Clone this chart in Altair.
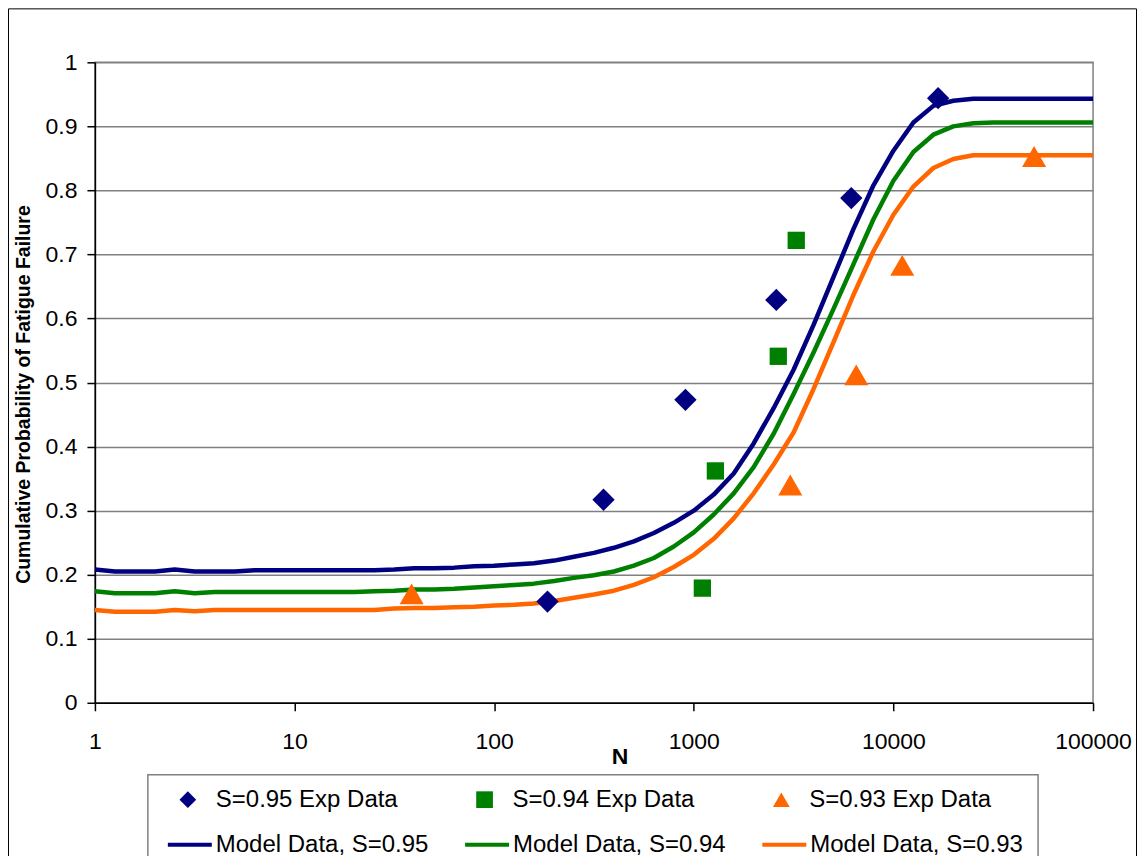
import altair as alt
import pandas as pd

# ---------------- data ----------------
N_MODEL = [1, 1.26, 1.58, 2, 2.51, 3.16, 3.98, 5.01, 6.31, 7.94,
           10, 12.6, 15.8, 20, 25.1, 31.6, 39.8, 50.1, 63.1, 79.4,
           100, 126, 158, 200, 251, 316, 398, 501, 631, 794,
           1000, 1259, 1585, 1995, 2512, 3162, 3981, 5012, 6310, 7943,
           10000, 12589, 15849, 19953, 25119, 31623, 39811, 50119, 63096, 79433,
           100000]

MODEL_095 = [0.208, 0.205, 0.205, 0.205, 0.208, 0.205, 0.205, 0.205, 0.207, 0.207,
             0.207, 0.207, 0.207, 0.207, 0.207, 0.208, 0.210, 0.210, 0.211, 0.213,
             0.214, 0.216, 0.218, 0.222, 0.228, 0.234, 0.242, 0.252, 0.265, 0.281,
             0.300, 0.325, 0.358, 0.405, 0.460, 0.520, 0.590, 0.665, 0.740, 0.808,
             0.862, 0.906, 0.932, 0.940, 0.943, 0.943, 0.943, 0.943, 0.943, 0.943,
             0.943]

MODEL_094 = [0.174, 0.171, 0.171, 0.171, 0.174, 0.171, 0.173, 0.173, 0.173, 0.173,
             0.173, 0.173, 0.173, 0.173, 0.174, 0.175, 0.177, 0.177, 0.178, 0.180,
             0.182, 0.184, 0.186, 0.190, 0.195, 0.199, 0.205, 0.214, 0.226, 0.244,
             0.266, 0.294, 0.327, 0.368, 0.420, 0.482, 0.547, 0.615, 0.685, 0.755,
             0.815, 0.860, 0.887, 0.900, 0.905, 0.906, 0.906, 0.906, 0.906, 0.906,
             0.906]

MODEL_093 = [0.145, 0.142, 0.142, 0.142, 0.145, 0.143, 0.145, 0.145, 0.145, 0.145,
             0.145, 0.145, 0.145, 0.145, 0.145, 0.147, 0.148, 0.148, 0.149, 0.150,
             0.152, 0.153, 0.155, 0.159, 0.164, 0.169, 0.175, 0.184, 0.196, 0.212,
             0.231, 0.256, 0.288, 0.327, 0.372, 0.422, 0.490, 0.563, 0.637, 0.705,
             0.762, 0.806, 0.835, 0.849, 0.855, 0.855, 0.855, 0.855, 0.855, 0.855,
             0.855]

EXP_095_N = [185, 353, 908, 2590, 6150, 16750]
EXP_095_P = [0.158, 0.317, 0.473, 0.629, 0.788, 0.944]

EXP_094_N = [1104, 1283, 2650, 3260]
EXP_094_P = [0.179, 0.362, 0.541, 0.722]

EXP_093_N = [38.6, 3044, 6513, 11070, 50670]
EXP_093_P = [0.170, 0.340, 0.512, 0.683, 0.853]

LABELS_EXP = ["S=0.95 Exp Data", "S=0.94 Exp Data", "S=0.93 Exp Data"]
LABELS_MODEL = ["Model Data, S=0.95", "Model Data, S=0.94", "Model Data, S=0.93"]
COLORS = ["#000080", "#008000", "#FF6600"]
SHAPES = ["diamond", "square", "triangle-up"]
SIZES = [500, 300, 580]

X_TICKS = [1, 10, 100, 1000, 10000, 100000]
Y_TICKS = [0, 0.1, 0.2, 0.3, 0.4, 0.5, 0.6, 0.7, 0.8, 0.9, 1]

FONT = "Liberation Sans"

# ---------------- tables ----------------
model_rows = []
for lab, vals in zip(LABELS_MODEL, [MODEL_095, MODEL_094, MODEL_093]):
    for n, p in zip(N_MODEL, vals):
        model_rows.append({"N": n, "P": p, "model": lab})
model_df = pd.DataFrame(model_rows)

exp_rows = []
for lab, ns, ps in zip(LABELS_EXP, [EXP_095_N, EXP_094_N, EXP_093_N],
                       [EXP_095_P, EXP_094_P, EXP_093_P]):
    for n, p in zip(ns, ps):
        exp_rows.append({"N": n, "P": p, "exp": lab})
exp_df = pd.DataFrame(exp_rows)

one = pd.DataFrame({"k": [0]})

# ---------------- scales / axes ----------------
x_scale = alt.Scale(type="log", domain=[1, 100000], nice=False)
y_scale = alt.Scale(domain=[0, 1], nice=False, zero=False)

x_axis = alt.Axis(
    values=X_TICKS, format="d", grid=False, title="N",
    labelFontSize=23, labelPadding=20, labelFlush=False, labelOverlap=False,
    labelColor="black", labelFont=FONT,
    domainColor="black", domainWidth=1.5, tickColor="black", tickWidth=1.5, tickSize=8,
    titleFont=FONT, titleFontSize=23, titleFontWeight="bold", titleColor="black",
    titleX=525, titleY=54, titleBaseline="middle", titleAlign="center",
)
y_axis = alt.Axis(
    values=Y_TICKS, format=".1~f", grid=True,
    title="Cumulative Probability of Fatigue Failure",
    labelFontSize=23, labelPadding=10, labelFlush=False, labelOverlap=False,
    labelColor="black", labelFont=FONT,
    gridColor="#808080", gridWidth=1.5,
    domainColor="black", domainWidth=1.5, tickColor="black", tickWidth=1.5, tickSize=8,
    titleFont=FONT, titleFontSize=19.5, titleFontWeight="bold", titleColor="black",
    titleX=-71, titleY=332, titleBaseline="middle", titleAlign="center",
)

leg_exp = alt.Legend(
    orient="none", legendX=81, legendY=726, direction="horizontal", title=None,
    labelFont=FONT, labelFontSize=24, labelColor="black", labelLimit=600,
    symbolSize=280, symbolStrokeWidth=0, symbolOpacity=1,
    labelOffset=16, columnPadding=74, padding=0,
)
leg_model = alt.Legend(
    orient="none", legendX=71, legendY=759, direction="horizontal", title=None,
    labelFont=FONT, labelFontSize=24, labelColor="black", labelLimit=600,
    symbolType="stroke", symbolSize=1936, symbolStrokeWidth=4,
    labelOffset=2, columnPadding=28.5, padding=0,
)

# ---------------- decorations ----------------
frame = alt.Chart(one).mark_rect(fillOpacity=0, stroke="black", strokeWidth=1).encode(
    x=alt.value(-86.5), x2=alt.value(1042.5), y=alt.value(-53.5), y2=alt.value(900)
)
legend_box = alt.Chart(one).mark_rect(fillOpacity=0, stroke="#808080", strokeWidth=1.5).encode(
    x=alt.value(53), x2=alt.value(944), y=alt.value(713), y2=alt.value(900)
)

# ---------------- data layers ----------------
lines = alt.Chart(model_df).mark_line(strokeWidth=4.5, strokeJoin="round").encode(
    x=alt.X("N:Q", scale=x_scale, axis=x_axis),
    y=alt.Y("P:Q", scale=y_scale, axis=y_axis),
    stroke=alt.Stroke("model:N", sort=LABELS_MODEL, scale=alt.Scale(range=COLORS),
                      legend=leg_model),
)

size_rule = (
    alt.when(alt.datum.exp == LABELS_EXP[1]).then(alt.value(SIZES[1]))
    .when(alt.datum.exp == LABELS_EXP[2]).then(alt.value(SIZES[2]))
    .otherwise(alt.value(SIZES[0]))
)

points = alt.Chart(exp_df).mark_point(filled=True, opacity=1, strokeWidth=0).encode(
    x=alt.X("N:Q", scale=x_scale),
    y=alt.Y("P:Q", scale=y_scale),
    fill=alt.Fill("exp:N", scale=alt.Scale(domain=LABELS_EXP, range=COLORS), legend=leg_exp),
    shape=alt.Shape("exp:N", scale=alt.Scale(domain=LABELS_EXP, range=SHAPES), legend=leg_exp),
    size=size_rule,
)

chart = alt.layer(frame, legend_box, lines, points).properties(
    width=999, height=641,
    padding={"left": 87, "top": 54, "right": 44, "bottom": 153},
    autosize=alt.AutoSizeParams(type="none"),
    background="white",
).configure(font=FONT).configure_view(stroke="#808080", strokeWidth=1.5)

chart.save("out.html", embed_options={"renderer": "svg", "actions": False})
